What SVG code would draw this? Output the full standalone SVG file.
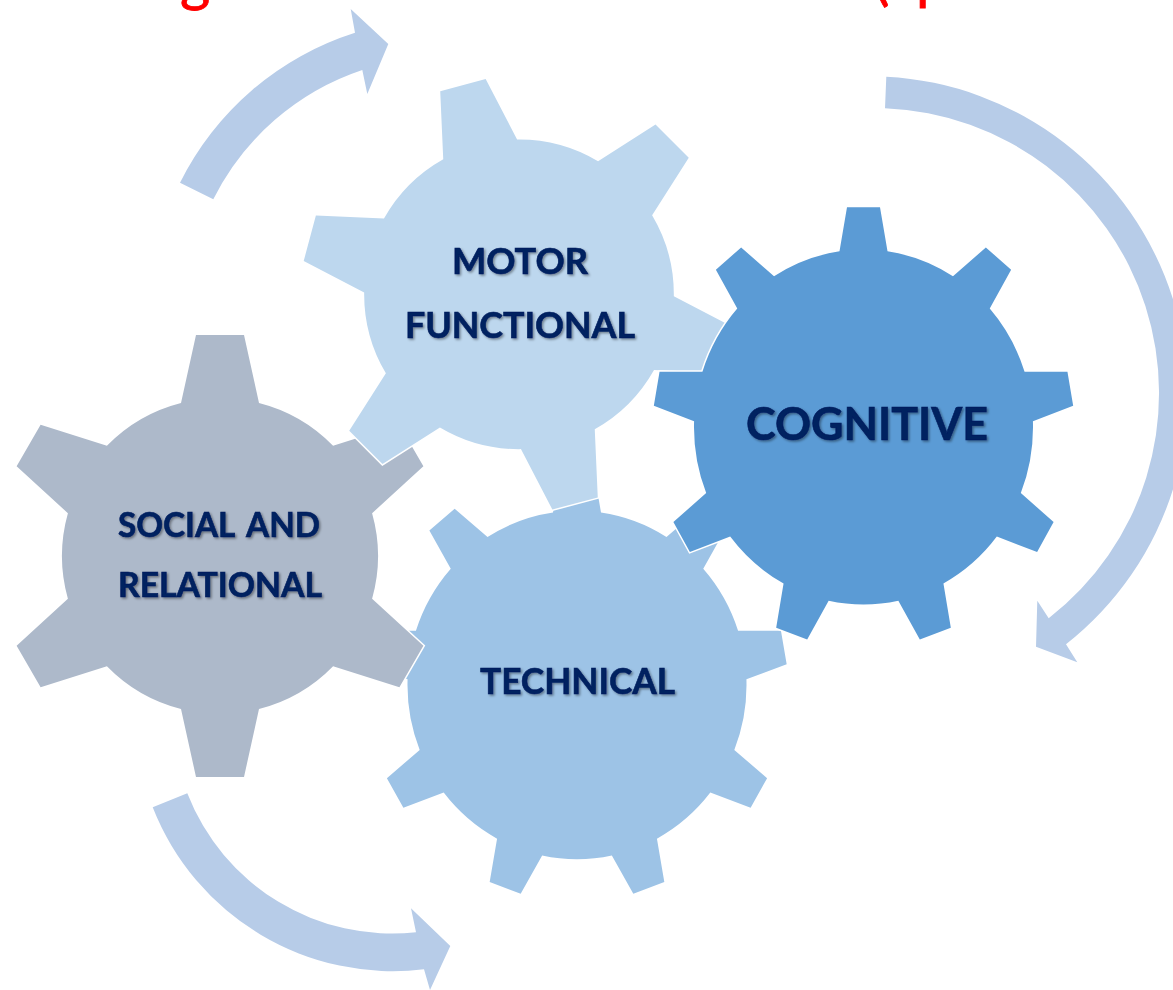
<svg xmlns="http://www.w3.org/2000/svg" xmlns:xlink="http://www.w3.org/1999/xlink" width="1173" height="990" viewBox="0 0 1173 990">
<style>
.gear{stroke:#fff;stroke-width:3;vector-effect:non-scaling-stroke;stroke-linejoin:miter;paint-order:stroke}
.label{font-family:"Lato","Open Sans","Liberation Sans",sans-serif;font-weight:700;fill:#002060;stroke:#002060;stroke-width:.6;filter:url(#shadow)}
.arrow{fill:#B7CCE8}
.red{font-family:"Lato","Liberation Sans",sans-serif;font-size:58px;fill:#FF0000;stroke:#FF0000;stroke-width:.8}
</style>
<defs>
<filter id="shadow" x="-5%" y="-20%" width="110%" height="140%"><feDropShadow dx="1.5" dy="1.5" stdDeviation="1" flood-color="#000" flood-opacity="0.4"/></filter>
<path id="gear9" d="M-24 -167.8L-16.5 -210L16.5 -210L24 -167.8A169.5 169.5 0 0 1 89.48 -143.96L122.35 -171.47L147.63 -150.25L126.24 -113.1A169.5 169.5 0 0 1 161.08 -52.77L203.95 -52.71L209.67 -20.21L169.42 -5.49A169.5 169.5 0 0 1 157.31 63.12L190.11 90.71L173.61 119.29L133.31 104.68A169.5 169.5 0 0 1 79.94 149.47L87.32 191.7L56.32 202.98L34.84 165.89A169.5 169.5 0 0 1 -34.84 165.89L-56.32 202.98L-87.32 191.7L-79.94 149.47A169.5 169.5 0 0 1 -133.31 104.68L-173.61 119.29L-190.11 90.71L-157.31 63.12A169.5 169.5 0 0 1 -169.42 -5.49L-209.67 -20.21L-203.95 -52.71L-161.08 -52.77A169.5 169.5 0 0 1 -126.24 -113.1L-147.63 -150.25L-122.35 -171.47L-89.48 -143.96A169.5 169.5 0 0 1 -24 -167.8Z"/>
<path id="gear6" d="M-39 -153.1L-24 -221L24 -221L39 -153.1A158 158 0 0 1 113.09 -110.32L179.39 -131.28L203.39 -89.72L152.09 -42.78A158 158 0 0 1 152.09 42.78L203.39 89.72L179.39 131.28L113.09 110.32A158 158 0 0 1 39 153.1L24 221L-24 221L-39 153.1A158 158 0 0 1 -113.09 110.32L-179.39 131.28L-203.39 89.72L-152.09 42.78A158 158 0 0 1 -152.09 -42.78L-203.39 -89.72L-179.39 -131.28L-113.09 -110.32A158 158 0 0 1 -39 -153.1Z"/>
</defs>
<rect width="1173" height="990" fill="#fff"/>
<text class="red" x="180" y="0">g</text>
<text class="red" x="874" y="-1">(</text>
<text class="red" x="916" y="-2">p</text>
<g id="connectors">
<path class="arrow" d="M180 182.7A295 295 0 0 1 355 32.7L350.7 9L388.3 44L367.3 94L362.3 70A258 258 0 0 0 213.3 199.3Z"/>
<path class="arrow" d="M886.3 76.7A318 318 0 0 1 1066 644.3L1077.3 662.3L1036 646.7L1037.3 600.7L1048.7 618.3A285 285 0 0 0 885 108.3Z"/>
<path class="arrow" d="M152.7 807.3A258 258 0 0 0 424 969.3L430 990L450.3 946L411 908.3L416 932.3A220 220 0 0 1 187.3 793.3Z"/>
</g>
<g id="node-technical">
<use href="#gear9" class="gear" fill="#9DC3E6" transform="translate(577 685) scale(1 1.028)"/>
<text class="label" x="480" y="694" font-size="36" textLength="195" lengthAdjust="spacingAndGlyphs">TECHNICAL</text>
</g>
<g id="node-social">
<use href="#gear6" class="gear" fill="#ADB9CA" transform="translate(220 556)"/>
<text class="label" x="118" y="537" font-size="34" word-spacing="5" textLength="202" lengthAdjust="spacingAndGlyphs">SOCIAL AND</text>
<text class="label" x="118" y="597" font-size="34" textLength="204" lengthAdjust="spacingAndGlyphs">RELATIONAL</text>
</g>
<g id="node-motor">
<use href="#gear6" class="gear" fill="#BDD7EE" transform="translate(519 294.3) rotate(-15) scale(.98)"/>
<text class="label" x="452" y="274" font-size="36" textLength="136" lengthAdjust="spacingAndGlyphs">MOTOR</text>
<text class="label" x="405" y="338" font-size="36" textLength="230" lengthAdjust="spacingAndGlyphs">FUNCTIONAL</text>
</g>
<g id="node-cognitive">
<use href="#gear9" class="gear" fill="#5B9BD5" transform="translate(863.5 427) scale(1 1.047)"/>
<text class="label" x="746" y="440" font-size="45" textLength="242" lengthAdjust="spacingAndGlyphs">COGNITIVE</text>
</g>
</svg>
